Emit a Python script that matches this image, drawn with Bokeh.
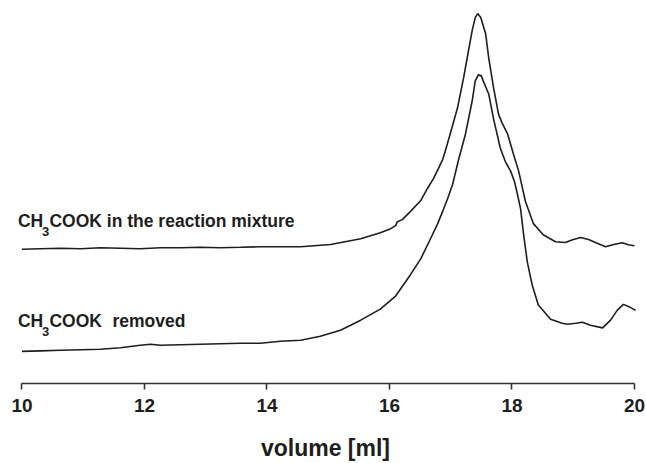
from bokeh.plotting import figure
from bokeh.models import Range1d, FixedTicker, Label
from bokeh.embed import file_html
from bokeh.resources import INLINE

# Elution volume [ml] and detector signal (arbitrary units)
vol_mixture = [10.00, 10.30, 10.63, 10.96, 11.28, 11.61, 11.93, 12.26, 12.59, 12.91,
               13.24, 13.57, 13.89, 14.22, 14.55, 15.04, 15.53, 15.85, 16.02, 16.10,
               16.13, 16.21, 16.34, 16.51, 16.62, 16.72, 16.80, 16.87, 16.91, 16.99,
               17.11, 17.21, 17.29, 17.35, 17.40, 17.44, 17.49, 17.57, 17.62, 17.70,
               17.78, 17.84, 17.93, 18.02, 18.11, 18.22, 18.35, 18.51, 18.71, 18.87,
               18.99, 19.12, 19.25, 19.40, 19.53, 19.66, 19.80, 19.90, 20.00]
sig_mixture = [133.5, 134, 134.5, 134, 135, 134.5, 134, 135, 135, 135.5,
               135, 135.5, 136, 136, 136, 138.3, 144, 150, 154, 157,
               161, 163, 171, 182, 194, 204, 214, 223, 231, 248,
               274, 304, 331, 351, 364, 368, 364, 348, 324, 294,
               268, 259, 248, 229, 211, 181, 159, 148, 141, 140.3,
               143, 145.3, 143.3, 139.3, 136, 138.3, 140, 138, 137]

vol_removed = [10.00, 10.30, 10.63, 10.96, 11.28, 11.61, 11.93, 12.10, 12.26, 12.59,
               12.91, 13.24, 13.57, 13.89, 14.22, 14.55, 14.87, 15.20, 15.53, 15.85,
               16.10, 16.18, 16.34, 16.51, 16.67, 16.78, 16.88, 16.95, 17.03, 17.13,
               17.24, 17.35, 17.40, 17.45, 17.50, 17.53, 17.62, 17.70, 17.81, 17.89,
               17.98, 18.04, 18.09, 18.14, 18.19, 18.25, 18.33, 18.43, 18.63, 18.82,
               18.91, 19.04, 19.15, 19.28, 19.48, 19.61, 19.72, 19.82, 19.90, 20.02]
sig_removed = [32, 32.5, 33, 33.5, 34, 35.5, 38, 39, 38, 38.5,
               39, 39.5, 40, 40, 42, 43, 47, 53, 63, 74,
               87, 94, 108, 124, 144, 158, 173, 184, 198, 223,
               248, 281, 301, 307, 306, 301, 288, 263, 234, 221,
               211, 201, 188, 174, 148, 121, 98, 78, 64, 60,
               59, 60, 61, 58, 55.3, 63, 73, 78.7, 76.7, 72.7]

x_ticks = [10, 12, 14, 16, 18, 20]
x_title = "volume [ml]"
label_mixture = ["CH", "3", "COOK in the reaction mixture"]
label_removed = ["CH", "3", "COOK", "removed"]

INK = "#1e1e1e"
FONT = "Liberation Sans"

p = figure(width=646, height=463, output_backend="svg", toolbar_location=None,
           x_range=Range1d(9.878, 20.033), y_range=Range1d(0, 376),
           min_border_left=14, min_border_right=10, min_border_top=5,
           min_border_bottom=0)
p.outline_line_color = None
p.background_fill_color = "white"
p.border_fill_color = "white"
p.xgrid.visible = False
p.ygrid.visible = False
p.yaxis.visible = False

ax = p.xaxis[0]
ax.bounds = (10, 20)
ax.ticker = FixedTicker(ticks=x_ticks)
ax.minor_tick_line_color = None
ax.major_tick_in = 0
ax.major_tick_out = 6
ax.axis_line_color = "#333333"
ax.axis_line_width = 1.6
ax.major_tick_line_color = "#333333"
ax.major_tick_line_width = 1.6
ax.major_label_text_font = FONT
ax.major_label_text_font_style = "bold"
ax.major_label_text_font_size = "19px"
ax.major_label_text_color = INK
ax.major_label_standoff = 9
ax.axis_label = x_title
ax.axis_label_text_font = FONT
ax.axis_label_text_font_style = "bold"
ax.axis_label_text_font_size = "23px"
ax.axis_label_text_color = INK
ax.axis_label_standoff = 20

p.line(vol_mixture, sig_mixture, line_color=INK, line_width=1.6)
p.line(vol_removed, sig_removed, line_color=INK, line_width=1.6)


def add_text(txt, y, dx, size):
    p.add_layout(Label(x=10, y=y, x_offset=dx, text=txt,
                       text_font=FONT, text_font_style="bold",
                       text_font_size=size, text_color=INK,
                       text_baseline="alphabetic", text_align="left"))


# top trace label: CH3COOK in the reaction mixture
add_text(label_mixture[0], 162, -4, "17.5px")
add_text(label_mixture[1], 151.5, 20, "13px")
add_text(label_mixture[2], 162, 27.5, "17.5px")

# bottom trace label: CH3COOK  removed
add_text(label_removed[0], 62, -4, "17.5px")
add_text(label_removed[1], 51.5, 20, "13px")
add_text(label_removed[2], 62, 27.5, "17.5px")
add_text(label_removed[3], 62, 90.5, "17.5px")

open("out.html", "w").write(file_html(p, INLINE))
